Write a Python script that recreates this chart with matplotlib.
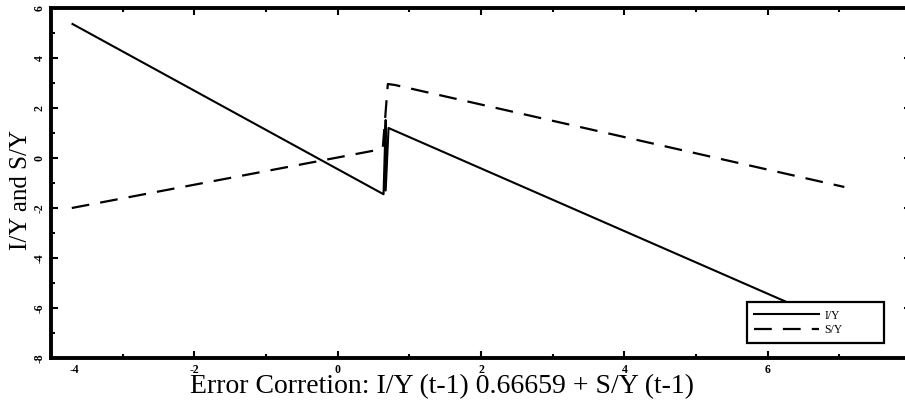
import matplotlib
matplotlib.use('Agg')
import matplotlib.pyplot as plt
import matplotlib.transforms as mtransforms
from matplotlib.ticker import MultipleLocator

# values
x_iy = [-3.70, 0.64, 0.67, 0.67, 0.71, 7.07]
iy = [5.36, -1.45, 1.52, -1.30, 1.20, -6.77]
x_sy = [-3.71, 0.55, 0.63, 0.66, 0.70, 0.80, 7.07]
sy = [-2.00, 0.32, 0.42, 1.50, 2.96, 2.92, -1.16]

x_ticks = [-4, -2, 0, 2, 4, 6]
y_ticks = [-8, -6, -4, -2, 0, 2, 4, 6]
x_label = 'Error Corretion: I/Y (t-1) 0.66659 + S/Y (t-1)'
y_label = 'I/Y and S/Y'

plt.rcParams['font.family'] = ['Liberation Serif', 'DejaVu Serif']
plt.rcParams['axes.unicode_minus'] = False

fig = plt.figure(figsize=(9.05, 4.07), dpi=100)
# axes: left spine at x=51px, right spine just outside the picture
ax = fig.add_axes([51 / 905, 49 / 407, 860 / 905, 350 / 407])

ax.plot(x_iy, iy, color='black', lw=1.5, label='I/Y')
ax.plot(x_sy, sy, color='black', lw=1.6, dashes=(8, 5), label='S/Y')

ax.set_xlim(-4, 8)
ax.set_ylim(-8, 6)
ax.set_xticks(x_ticks)
ax.set_yticks(y_ticks)
ax.xaxis.set_minor_locator(MultipleLocator(1))
ax.yaxis.set_minor_locator(MultipleLocator(1))

for s in ax.spines.values():
    s.set_linewidth(2.8)

ax.tick_params(which='both', direction='in', top=True, right=True, width=1.5)
ax.tick_params(which='major', length=5, pad=4)
ax.tick_params(which='minor', length=3)
ax.tick_params(axis='x', labelsize=8.5)
ax.tick_params(axis='y', labelsize=8.5, labelrotation=90)
for lab in ax.get_xticklabels() + ax.get_yticklabels():
    lab.set_fontweight('bold')
for lab in ax.get_yticklabels():
    lab.set_va('center')

# first x label sits shifted inside the frame
first = ax.get_xticklabels()[0]
first.set_transform(first.get_transform() + mtransforms.ScaledTranslation(23 / 100, 0, fig.dpi_scale_trans))

ax.set_xlabel(x_label, fontsize=20)
ax.xaxis.set_label_coords(0.455, -0.045)
ax.set_ylabel(y_label, fontsize=18)
ax.yaxis.set_label_coords(-0.022, 0.48)

leg = ax.legend(loc='lower left', bbox_to_anchor=(0.809, 0.043, 0.160, 0.1), mode='expand',
                borderaxespad=0, fontsize=8.5, handlelength=5.5, handletextpad=0.5,
                borderpad=0.6, labelspacing=0.2, fancybox=False, framealpha=1)
leg.get_frame().set_edgecolor('black')
leg.get_frame().set_linewidth(1.6)

fig.savefig('out.png', dpi=100)
